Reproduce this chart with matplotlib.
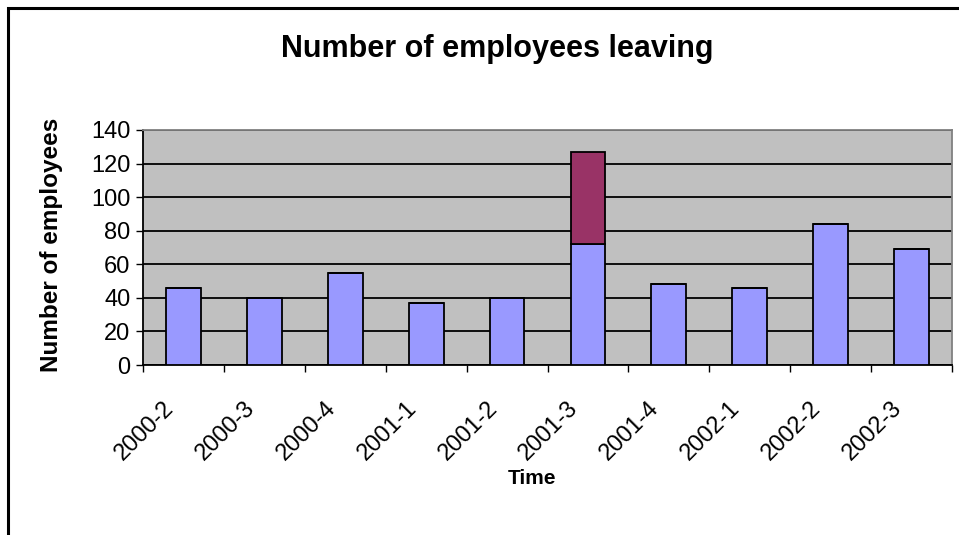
import numpy as np
import matplotlib.pyplot as plt
from matplotlib.patches import Rectangle
from matplotlib.transforms import ScaledTranslation

plt.rcParams['font.family'] = ['Liberation Sans', 'DejaVu Sans']

quarters = ["2000-2", "2000-3", "2000-4", "2001-1", "2001-2",
            "2001-3", "2001-4", "2002-1", "2002-2", "2002-3"]
leaving = [46, 40, 55, 37, 40, 72, 48, 46, 84, 69]
extra = [0, 0, 0, 0, 0, 55, 0, 0, 0, 0]
y_ticks = [0, 20, 40, 60, 80, 100, 120, 140]

W, H = 959, 535
fig = plt.figure(figsize=(W / 100, H / 100), dpi=100)
# outer chart frame (only left and top edges fall inside the picture)
fig.patches.append(Rectangle((8 / W, -0.05), 1.1, 1 - 8 / H + 0.05, transform=fig.transFigure,
                             fill=False, edgecolor='black', linewidth=2.2))

ax = fig.add_axes([143 / W, 1 - 365 / H, 809 / W, 235 / H])
ax.set_facecolor('#c0c0c0')

x = np.arange(len(quarters)) + 0.5
ax.bar(x, leaving, width=0.43, color='#9999ff', edgecolor='black', linewidth=1.3, zorder=3)
ax.bar(x, extra, width=0.43, bottom=leaving, color='#993366', edgecolor='black',
       linewidth=1.3, zorder=3)

ax.set_xlim(0, len(quarters))
ax.set_ylim(0, 140)
ax.set_yticks(y_ticks)
ax.yaxis.grid(True, color='black', linewidth=1.3, zorder=1)
ax.set_axisbelow(True)

ax.set_xticks(np.arange(len(quarters) + 1))
ax.set_xticklabels([])
ax.set_xticks(x, minor=True)
ax.set_xticklabels(quarters, minor=True, rotation=45, ha='right', rotation_mode='anchor',
                   va='center', fontsize=17)
ax.tick_params(axis='x', which='minor', length=0, pad=22)
ax.tick_params(axis='x', which='major', length=5, width=1, direction='out')
ax.tick_params(axis='y', length=5, width=1, direction='out', labelsize=17, pad=4)
shift = ScaledTranslation(-0.13, -0.09, fig.dpi_scale_trans)
for lbl in ax.get_xticklabels(minor=True):
    lbl.set_transform(lbl.get_transform() + shift)

for s in ['left', 'bottom']:
    ax.spines[s].set_color('black')
    ax.spines[s].set_linewidth(1.3)
for s in ['top', 'right']:
    ax.spines[s].set_color('#808080')
    ax.spines[s].set_linewidth(1.3)

fig.text(52 / W, 1 - 245 / H, "Number of employees", rotation=90, ha='center', va='center',
         fontsize=17.5, fontweight='bold')
fig.text(532 / W, 1 - 478 / H, "Time", ha='center', va='center',
         fontsize=15, fontweight='bold')
fig.text(497 / W, 0.909, "Number of employees leaving", ha='center', va='center',
         fontsize=22, fontweight='bold')

fig.savefig("out.png", dpi=100)
